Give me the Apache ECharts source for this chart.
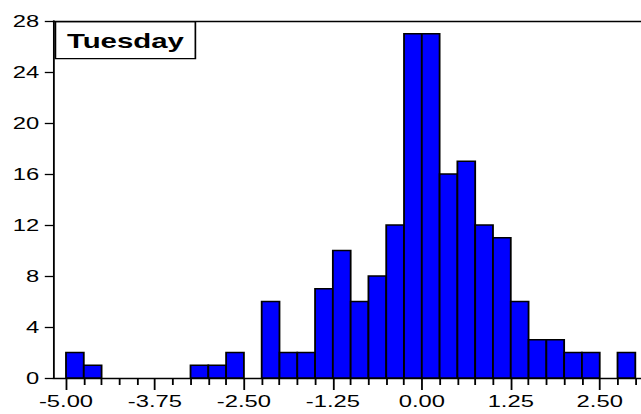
<!DOCTYPE html>
<html>
<head>
<meta charset="utf-8">
<title>Tuesday</title>
<script src="https://cdn.jsdelivr.net/npm/echarts@6/dist/echarts.min.js"></script>
<style>
    html, body { margin: 0; padding: 0; background: #fff; overflow: hidden; }
    /* the original picture is stretched sideways, so draw narrow and widen it */
    #main { width: 458px; height: 414px; transform: scaleX(1.39956); transform-origin: 0 0; }
</style>
</head>
<body>
<div id="main"></div>
<script>
// left edge of every bin (width 0.25)
var binLefts = [-5.00, -4.75, -4.50, -4.25, -4.00, -3.75, -3.50, -3.25,
    -3.00, -2.75, -2.50, -2.25, -2.00, -1.75, -1.50, -1.25,
    -1.00, -0.75, -0.50, -0.25, 0.00, 0.25, 0.50, 0.75,
    1.00, 1.25, 1.50, 1.75, 2.00, 2.25, 2.50, 2.75];
var binWidth = 0.25;
var counts = [2, 1, 0, 0, 0, 0, 0, 1,
    1, 2, 0, 6, 2, 2, 7, 10,
    6, 8, 12, 27, 27, 16, 17, 12,
    11, 6, 3, 3, 2, 2, 0, 2];
var xTickLabels = [-5.00, -3.75, -2.50, -1.25, 0.00, 1.25, 2.50];
var yTickLabels = [0, 4, 8, 12, 16, 20, 24, 28];
var panelTitle = 'Tuesday';

var myChart = echarts.init(document.getElementById('main'), null, {renderer: 'svg'});

var histData = [];
var minorTicks = [];
for (var i = 0; i < binLefts.length; i++) {
    histData.push([binLefts[i], binLefts[i] + binWidth, counts[i]]);
    minorTicks.push(binLefts[i]);
}
minorTicks.push(binLefts[binLefts.length - 1] + binWidth);
minorTicks = minorTicks.filter(function (v) {
    return xTickLabels.indexOf(v) < 0;
});

var xMin = -5.18, xMax = 3.08;
var lineStyle = {color: '#000', width: 1.3};
var labelFont = {color: '#000', fontSize: 17, fontFamily: 'Liberation Sans, Arial, sans-serif'};

myChart.setOption({
    animation: false,
    backgroundColor: '#fff',
    grid: {left: 38, right: 0, top: 21, bottom: 36},
    xAxis: [{
        type: 'value', min: xMin, max: xMax, position: 'bottom',
        axisLine: {show: true, onZero: false, lineStyle: lineStyle},
        axisTick: {show: true, customValues: xTickLabels, length: 12, lineStyle: lineStyle},
        axisLabel: Object.assign({
            customValues: xTickLabels, margin: 14,
            formatter: function (v) { return v.toFixed(2); }
        }, labelFont),
        splitLine: {show: false}
    }, {
        // minor ticks on every bin edge
        type: 'value', min: xMin, max: xMax, position: 'bottom',
        axisLine: {show: false, onZero: false},
        axisTick: {show: true, customValues: minorTicks, length: 7, lineStyle: lineStyle},
        axisLabel: {show: false},
        splitLine: {show: false}
    }, {
        // top frame
        type: 'value', min: xMin, max: xMax, position: 'top',
        axisLine: {show: true, onZero: false, lineStyle: lineStyle},
        axisTick: {show: false},
        axisLabel: {show: false},
        splitLine: {show: false}
    }],
    yAxis: {
        type: 'value', min: 0, max: 28, interval: 4, position: 'left',
        axisLine: {show: true, onZero: false, lineStyle: lineStyle},
        axisTick: {show: true, length: 6, lineStyle: lineStyle},
        axisLabel: Object.assign({
            margin: 10,
            formatter: function (v) { return yTickLabels.indexOf(v) >= 0 ? String(v) : ''; }
        }, labelFont),
        splitLine: {show: false}
    },
    graphic: [{
        type: 'group', left: 39, top: 21, z: 100,
        children: [{
            type: 'rect',
            shape: {x: 0, y: 0, width: 100, height: 37},
            style: {fill: '#fff', stroke: '#000', lineWidth: 1.2}
        }, {
            type: 'text', x: 50, y: 19,
            style: {
                text: panelTitle, fill: '#000',
                font: 'bold 21px "Liberation Sans", Arial, sans-serif',
                align: 'center', verticalAlign: 'middle'
            }
        }]
    }],
    series: [{
        name: panelTitle,
        type: 'custom',
        xAxisIndex: 0,
        data: histData,
        encode: {x: [0, 1], y: 2},
        renderItem: function (params, api) {
            if (!api.value(2)) return null;
            var p0 = api.coord([api.value(0), api.value(2)]);
            var p1 = api.coord([api.value(1), 0]);
            return {
                type: 'rect',
                shape: {x: p0[0], y: p0[1], width: p1[0] - p0[0], height: p1[1] - p0[1]},
                style: {fill: '#0000ff', stroke: '#000', lineWidth: 1.3}
            };
        }
    }]
});
</script>
</body>
</html>
